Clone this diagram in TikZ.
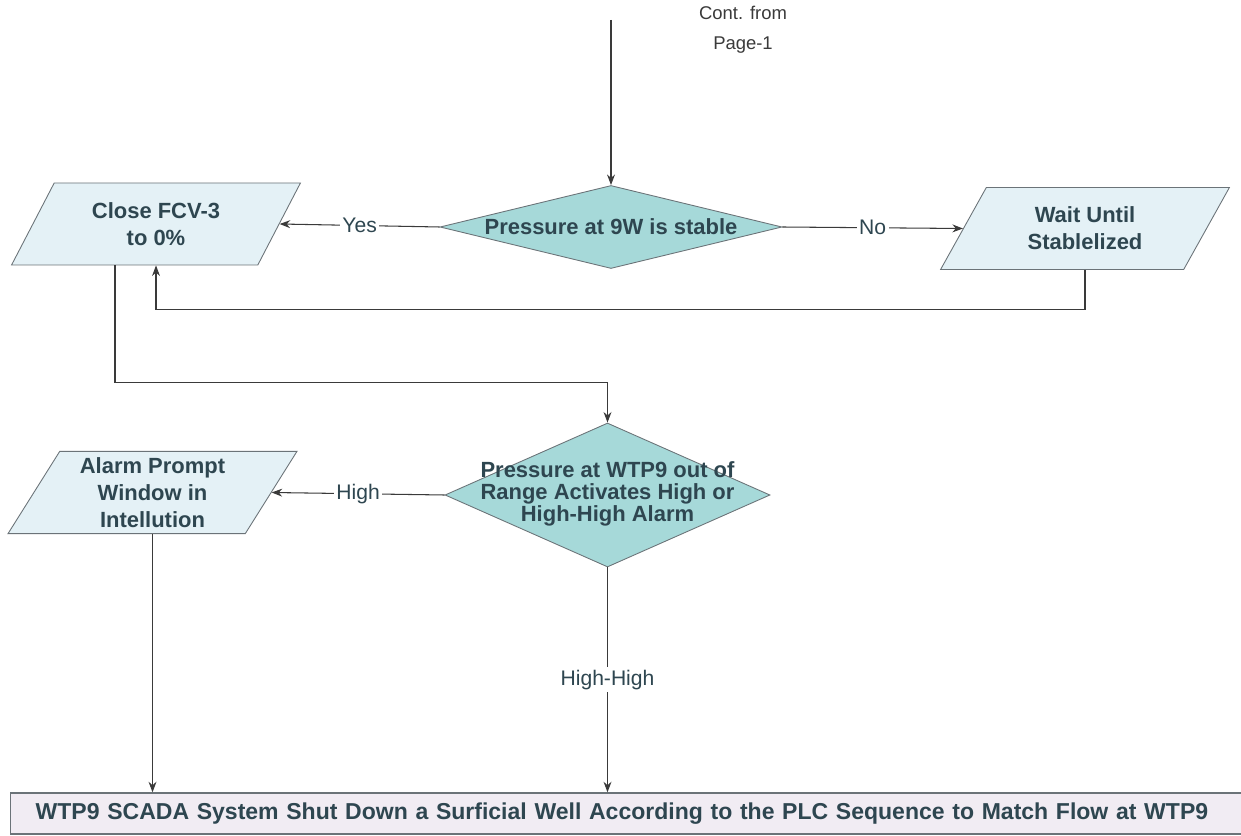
\documentclass[tikz,border=0pt]{standalone}
\usepackage{fontspec}
\setmainfont{Liberation Sans}
\usetikzlibrary{arrows.meta, shapes.geometric}
\definecolor{dtteal}{HTML}{A6D9D9}
\definecolor{plblue}{HTML}{E4F1F6}
\definecolor{lvgray}{HTML}{F1ECF3}
\definecolor{ednavy}{HTML}{2E4650}
\definecolor{lngray}{HTML}{3A3A3A}
\definecolor{bdgray}{HTML}{6B7378}

\begin{document}
\begin{tikzpicture}[
  flow/.style={-{Stealth[length=6pt, width=4.5pt]}, lngray, line width=0.6pt},
  link/.style={lngray, line width=0.6pt},
  decision/.style={diamond, draw=bdgray, fill=dtteal, line width=0.5pt, inner sep=0pt,
    text=ednavy, font=\fontsize{12.5}{14}\selectfont\bfseries},
  io/.style={trapezium, trapezium left angle=62, trapezium right angle=118,
    trapezium stretches=true, draw=bdgray, fill=plblue, line width=0.5pt,
    minimum width=5.78cm, minimum height=1.64cm, align=center, text=ednavy,
    font=\fontsize{12.5}{15.5}\selectfont\bfseries},
  endbox/.style={rectangle, draw=bdgray, fill=lvgray, line width=0.8pt,
    text width=24.2cm, inner xsep=0.5cm, align=left, minimum height=0.82cm, text=ednavy,
    font=\fontsize{13.1}{15}\selectfont\bfseries},
  choice/.style={fill=white, text=ednavy, font=\fontsize{12}{14}\selectfont, inner sep=1.5pt},
]
\useasboundingbox (0,0) rectangle (24.82,-16.72);

% ===== Top: stability check =====
\node[text=lngray, align=center, font=\fontsize{10.5}{17}\selectfont] (cont) at (14.86,-0.60) {Cont. from\\Page-1};
\coordinate (start) at (12.22,-0.40);

\node[decision, minimum width=6.84cm, minimum height=1.66cm] (stable) at (12.22,-4.54)
  {\makebox[0pt]{Pressure at 9W is stable}};
\node[io] (close) at (3.12,-4.48) {Close FCV-3\\to 0\%};
\node[io] (wait) at (21.70,-4.57) {Wait Until\\Stablelized};

\draw[flow] (start) -- (stable.north);
\draw[flow] (stable.west) -- node[choice] {Yes} (close.east);
\draw[flow] (stable.east) -- node[choice] {No} (wait.west);
\draw[flow] (wait.south) -- ++(0,-0.8) -| (close.south);

% ===== Middle: alarm check =====
\node[decision, minimum width=6.5cm, minimum height=2.88cm] (alarm) at (12.15,-9.90)
  {\makebox[0pt]{\begin{tabular}{@{}c@{}}Pressure at WTP9 out of\\[-1.5pt]Range Activates High or\\[-1.5pt]High-High Alarm\end{tabular}}};
\node[io] (prompt) at (3.05,-9.85) {Alarm Prompt\\Window in\\Intellution};

\draw[flow] ([xshift=-0.82cm]close.south) -- ++(0,-2.34) -| (alarm.north);
\draw[flow] (alarm.west) -- node[choice] {High} (prompt.east);

% ===== Bottom: shut down =====
\node[endbox, anchor=west] (shut) at (0.2,-16.27)
  {WTP9 SCADA System Shut Down a Surficial Well According to the PLC Sequence to Match Flow at WTP9};

\draw[flow] (prompt.south) -- (prompt.south |- shut.north);
\draw[flow] (alarm.south) -- node[choice, pos=0.5] {High-High} (alarm.south |- shut.north);

\end{tikzpicture}
\end{document}
